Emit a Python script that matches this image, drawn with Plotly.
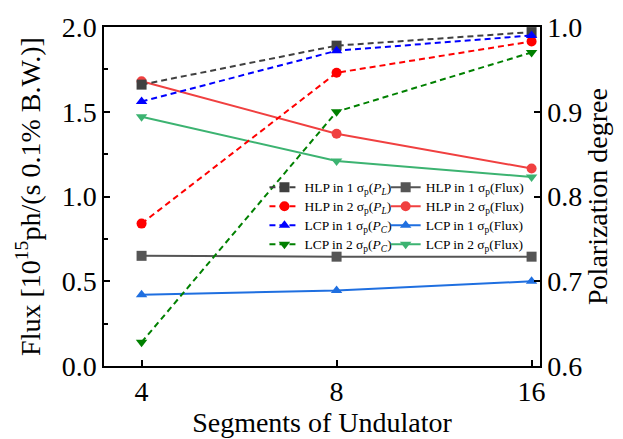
import plotly.graph_objects as go
import math

segments = [4, 8, 16]

# Flux (left axis)
flux_hlp1 = [0.65, 0.645, 0.645]
flux_hlp2 = [1.68, 1.37, 1.165]
flux_lcp1 = [0.42, 0.445, 0.50]
flux_lcp2 = [1.47, 1.21, 1.115]

# Polarization degree (right axis)
pol_hlp1 = [0.932, 0.978, 0.994]
pol_hlp2 = [0.768, 0.946, 0.983]
pol_lcp1 = [0.912, 0.972, 0.990]
pol_lcp2 = [0.628, 0.900, 0.970]

FONT = "Liberation Serif, Times New Roman, serif"
fig = go.Figure()


def lab(t):
    return '<span style="font-size:13.5px">' + t + '</span>'


dash = "6px,4px"
pol_series = [
    ("HLP in 1 σ<sub>p</sub>(<i>P<sub>L</sub></i>)", pol_hlp1, "#404040", "square"),
    ("HLP in 2 σ<sub>p</sub>(<i>P<sub>L</sub></i>)", pol_hlp2, "#ff0000", "circle"),
    ("LCP in 1 σ<sub>p</sub>(<i>P<sub>C</sub></i>)", pol_lcp1, "#0000ff", "triangle-up"),
    ("LCP in 2 σ<sub>p</sub>(<i>P<sub>C</sub></i>)", pol_lcp2, "#008000", "triangle-down"),
]
flux_series = [
    ("HLP in 1 σ<sub>p</sub>(Flux)", flux_hlp1, "#555555", "square"),
    ("HLP in 2 σ<sub>p</sub>(Flux)", flux_hlp2, "#f04040", "circle"),
    ("LCP in 1 σ<sub>p</sub>(Flux)", flux_lcp1, "#1f6fe0", "triangle-up"),
    ("LCP in 2 σ<sub>p</sub>(Flux)", flux_lcp2, "#3cb371", "triangle-down"),
]

for name, ys, col, sym in flux_series:
    fig.add_trace(go.Scatter(x=segments, y=ys, name=lab(name), mode="lines+markers",
                             line=dict(color=col, width=2),
                             marker=dict(symbol=sym, size=10, color=col),
                             yaxis="y", legend="legend2", cliponaxis=False))
for name, ys, col, sym in pol_series:
    fig.add_trace(go.Scatter(x=segments, y=ys, name=lab(name), mode="lines+markers",
                             line=dict(color=col, width=2, dash=dash),
                             marker=dict(symbol=sym, size=10, color=col),
                             yaxis="y2", legend="legend", cliponaxis=False))

tickfont = dict(family=FONT, size=28, color="black")
titlefont = dict(family=FONT, size=28, color="black")
legfont = dict(family=FONT, size=12, color="black")

fig.update_layout(
    width=623, height=439,
    margin=dict(l=104, r=83, t=19, b=68),
    plot_bgcolor="white", paper_bgcolor="white",
    font=dict(family=FONT, color="black"),
    xaxis=dict(type="log", range=[math.log10(4) - 0.058, math.log10(16) + 0.013],
               tickvals=segments, ticktext=[str(s) for s in segments],
               ticks="inside", ticklen=6, tickwidth=1.5, tickcolor="black",
               showline=True, linecolor="black", linewidth=1.5, mirror=True,
               showgrid=False, zeroline=False, tickfont=tickfont,
               title=dict(text="Segments of Undulator", font=titlefont, standoff=0)),
    yaxis=dict(range=[0, 2], dtick=0.5, tickformat=".1f",
               ticks="inside", ticklen=6, tickwidth=1.5, tickcolor="black",
               minor=dict(dtick=0.25, ticks="inside", ticklen=4, tickwidth=1.5, tickcolor="black"),
               showline=True, linecolor="black", linewidth=1.5,
               showgrid=False, zeroline=False, tickfont=tickfont,
               title=dict(text="Flux [10<sup>15</sup>ph/(s 0.1% B.W.)]", font=titlefont, standoff=13)),
    yaxis2=dict(range=[0.6, 1.0], dtick=0.1, tickformat=".1f", overlaying="y", side="right",
                ticks="inside", ticklen=6, tickwidth=1.5, tickcolor="black",
                showline=True, linecolor="black", linewidth=1.5,
                showgrid=False, zeroline=False, tickfont=tickfont,
                title=dict(text="Polarization degree", font=titlefont, standoff=4)),
    legend=dict(x=0.368, y=0.57, xanchor="left", yanchor="top",
                bgcolor="rgba(0,0,0,0)", font=legfont,
                tracegroupgap=0, itemwidth=30),
    legend2=dict(x=0.646, y=0.57, xanchor="left", yanchor="top",
                 bgcolor="rgba(0,0,0,0)", font=legfont,
                 tracegroupgap=0, itemwidth=30),
    showlegend=True,
)

fig.write_html("out.html")
